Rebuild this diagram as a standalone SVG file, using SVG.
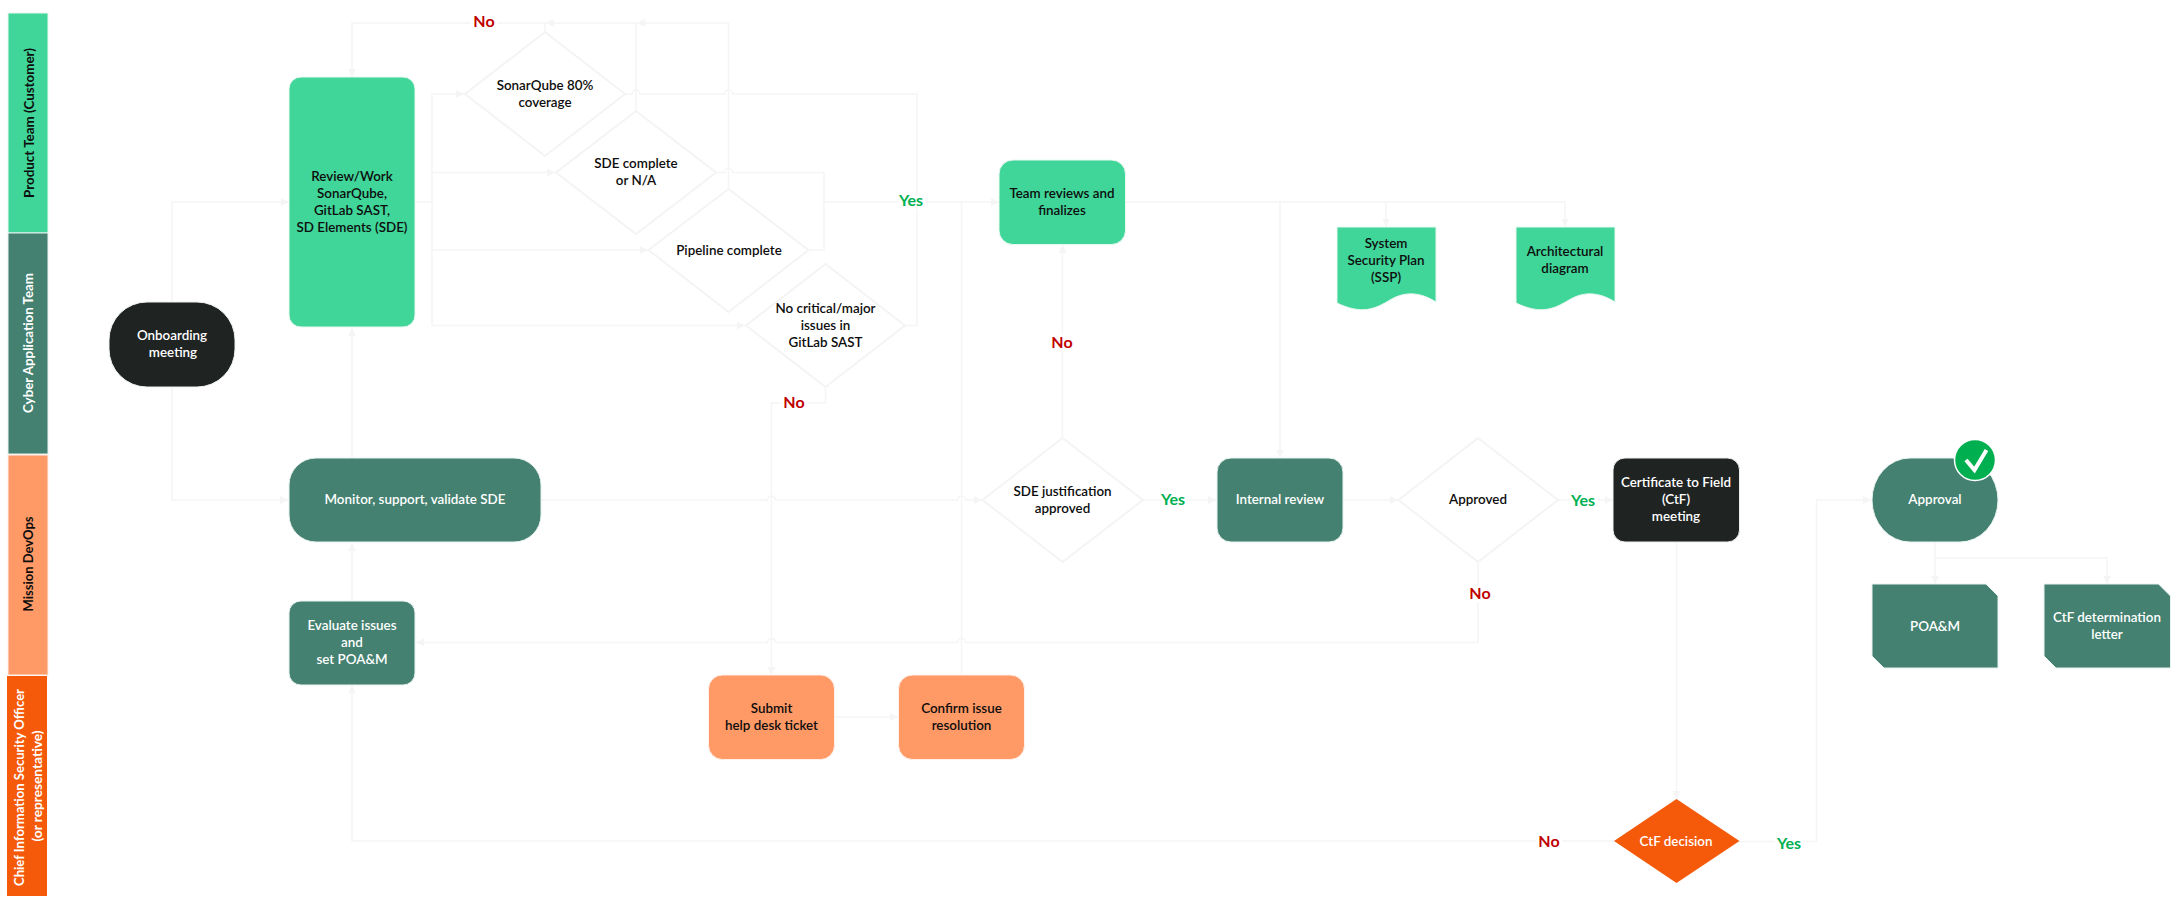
<svg xmlns="http://www.w3.org/2000/svg" width="2177" height="903" viewBox="0 0 2177 903">
<style>
text{font-family:"Lato","Carlito","Liberation Sans",sans-serif;font-size:13.4px;font-weight:600;text-anchor:middle;fill:#0d0d0d}
.w{fill:#fff}
.lane{font-size:14px;font-weight:700}
.no,.yes{font-size:16px;font-weight:700;stroke:#fff;stroke-width:7px;paint-order:stroke;stroke-linejoin:round}
.no{fill:#c00000}.yes{fill:#00b050}
.c{fill:none;stroke:#f5f5f5;stroke-width:1.500}
.a{marker-end:url(#arr)}
.d{fill:#fff;stroke:#f4f4f4;stroke-width:2}
.g{fill:#40d599;stroke:#e8f8f1;stroke-width:1}
.t{fill:#448170;stroke:#e8f2ef;stroke-width:1}
.k{fill:#1f2423;stroke:#eee;stroke-width:1}
.o{fill:#ff9966;stroke:#fff0e8;stroke-width:1}
.r{fill:#f55a0a}
</style>
<defs>
<marker id="arr" markerUnits="userSpaceOnUse" markerWidth="9" markerHeight="9" refX="8" refY="4" orient="auto"><path d="M0 0L8 4L0 8Z" fill="#f5f5f5"/></marker>
</defs>
<g id="lanes">
<g id="lane-product"><rect class="g" x="8" y="13" width="40" height="220"/><text class="lane" textLength="150" lengthAdjust="spacingAndGlyphs" transform="translate(34 123) rotate(-90)">Product Team (Customer)</text></g>
<g id="lane-cyber"><rect class="t" x="8" y="233" width="40" height="221"/><text class="lane w" textLength="140" lengthAdjust="spacingAndGlyphs" transform="translate(33 343) rotate(-90)">Cyber Application Team</text></g>
<g id="lane-mission"><rect class="o" x="8" y="455" width="40" height="220"/><text class="lane" textLength="95" lengthAdjust="spacingAndGlyphs" transform="translate(33 564) rotate(-90)">Mission DevOps</text></g>
<g id="lane-ciso"><rect class="r" x="7" y="676" width="40" height="220"/><text class="lane w" textLength="197" lengthAdjust="spacingAndGlyphs" transform="translate(23.500 787.500) rotate(-90)">Chief Information Security Officer</text><text class="lane w" textLength="111" lengthAdjust="spacingAndGlyphs" transform="translate(41.500 786) rotate(-90)">(or representative)</text></g>
</g>
<g id="connectors">
<path class="c a" d="M172 302V202H289"/>
<path class="c a" d="M172 387V500H288"/>
<path class="c" d="M415 202H432"/>
<path class="c a" d="M432 202V94H464"/>
<path class="c a" d="M432 172.500H555"/>
<path class="c a" d="M432 202V250H648"/>
<path class="c a" d="M432 250V325.500H745"/>
<path class="c a" d="M545 32V23H352V77"/>
<path class="c a" d="M636 111V23H546"/>
<path class="c a" d="M728.500 188V23H637"/>
<path class="c" d="M625 94H632a4 4 0 0 1 8 0H724.500a4 4 0 0 1 8 0H917V325.500H905"/>
<path class="c" d="M716 172.500H724.500a4 4 0 0 1 8 0H824V250H808.500"/>
<path class="c a" d="M824 202H999"/>
<path class="c a" d="M1126 202H1565V226.500"/>
<path class="c a" d="M1386 202V226.500"/>
<path class="c a" d="M1280 202V457.500"/>
<path class="c a" d="M1062.500 438V245"/>
<path class="c a" d="M541 500H767.500a4 4 0 0 1 8 0H957.500a4 4 0 0 1 8 0H982"/>
<path class="c a" d="M1143 500H1216"/>
<path class="c a" d="M1343 500H1398"/>
<path class="c a" d="M1558 500H1613"/>
<path class="c a" d="M825.500 387V403H771.500V675"/>
<path class="c" d="M961.500 675V202"/>
<path class="c a" d="M835 717H898"/>
<path class="c a" d="M1478 562V642.500H965.500a4 4 0 0 0 -8 0H775.500a4 4 0 0 0 -8 0H416"/>
<path class="c a" d="M352 601V543"/>
<path class="c a" d="M352 458V328"/>
<path class="c a" d="M1614 841H352V685.500"/>
<path class="c a" d="M1676.500 542V799"/>
<path class="c a" d="M1739 841.500H1816.500V500H1871"/>
<path class="c a" d="M1935 542V584"/>
<path class="c a" d="M1935 558H2107V584"/>
</g>
<g id="n-onboarding"><rect class="k" x="109" y="302" width="126" height="85" rx="38" ry="38"/><text class="w"><tspan x="172" y="340">Onboarding</tspan><tspan x="173" y="357">meeting</tspan></text></g>
<g id="n-review"><rect class="g" x="289" y="77" width="126" height="250" rx="12"/><text><tspan x="352" y="180.500">Review/Work</tspan><tspan x="352" y="197.500">SonarQube,</tspan><tspan x="352" y="214.500">GitLab SAST,</tspan><tspan x="352" y="231.500">SD Elements (SDE)</tspan></text></g>
<g id="n-sonar"><path class="d" d="M545 32L625 94L545 156L465 94Z"/><text><tspan x="545" y="90">SonarQube 80%</tspan><tspan x="545" y="107">coverage</tspan></text></g>
<g id="n-sde"><path class="d" d="M636 111L716 172.500L636 234L556 172.500Z"/><text><tspan x="636" y="168">SDE complete</tspan><tspan x="636" y="185">or N/A</tspan></text></g>
<g id="n-pipeline"><path class="d" d="M728.500 189L808.500 250L728.500 312L648.500 250Z"/><text x="729" y="254.500">Pipeline complete</text></g>
<g id="n-critical"><path class="d" d="M825.500 264L905 325.500L825.500 387L746 325.500Z"/><text><tspan x="825.500" y="313">No critical/major</tspan><tspan x="825.500" y="330">issues in</tspan><tspan x="825.500" y="347">GitLab SAST</tspan></text></g>
<g id="n-team"><rect class="g" x="999" y="160" width="126.500" height="84.500" rx="14"/><text><tspan x="1062" y="198">Team reviews and</tspan><tspan x="1062" y="215">finalizes</tspan></text></g>
<g id="n-ssp"><path class="g" d="M1337 227H1436V302C1420 292 1405 291 1390 300S1362 315 1337 303Z"/><text><tspan x="1386" y="248">System</tspan><tspan x="1386" y="265">Security Plan</tspan><tspan x="1386" y="282">(SSP)</tspan></text></g>
<g id="n-arch"><path class="g" d="M1516 227H1615V302C1599 292 1584 291 1569 300S1541 315 1516 303Z"/><text><tspan x="1565" y="256">Architectural</tspan><tspan x="1565" y="273">diagram</tspan></text></g>
<g id="n-monitor"><rect class="t" x="289" y="458" width="252" height="84" rx="27"/><text class="w" x="415" y="504">Monitor, support, validate SDE</text></g>
<g id="n-evaluate"><rect class="t" x="289" y="601" width="126" height="84" rx="12"/><text class="w"><tspan x="352" y="630">Evaluate issues</tspan><tspan x="352" y="647">and</tspan><tspan x="352" y="664">set POA&amp;M</tspan></text></g>
<g id="n-justify"><path class="d" d="M1062.500 438L1143 500L1062.500 562L982.500 500Z"/><text><tspan x="1062.500" y="496">SDE justification</tspan><tspan x="1062.500" y="513">approved</tspan></text></g>
<g id="n-internal"><rect class="t" x="1217" y="458" width="126" height="84" rx="14"/><text class="w" x="1280" y="503.500">Internal review</text></g>
<g id="n-approved"><path class="d" d="M1478 438L1558 500L1478 562L1398.500 500Z"/><text x="1478" y="504">Approved</text></g>
<g id="n-ctf"><rect class="k" x="1613" y="458" width="126.500" height="84" rx="12"/><text class="w"><tspan x="1676" y="487">Certificate to Field</tspan><tspan x="1676" y="504">(CtF)</tspan><tspan x="1676" y="521">meeting</tspan></text></g>
<g id="n-submit"><rect class="o" x="708.500" y="675" width="126" height="84.500" rx="14"/><text><tspan x="771.500" y="713">Submit</tspan><tspan x="771.500" y="730">help desk ticket</tspan></text></g>
<g id="n-confirm"><rect class="o" x="898.500" y="675" width="126" height="84.500" rx="14"/><text><tspan x="961.500" y="713">Confirm issue</tspan><tspan x="961.500" y="730">resolution</tspan></text></g>
<g id="n-decision"><path class="r" d="M1676.500 799L1739.500 841L1676.500 883L1614 841Z"/><text class="w" x="1676" y="846">CtF decision</text></g>
<g id="n-approval"><rect class="t" x="1872" y="458" width="126" height="84" rx="38" ry="42"/><text class="w" x="1935" y="504">Approval</text><circle cx="1975" cy="460" r="20.500" fill="#00b050" stroke="#fff" stroke-width="1.500"/><path d="M1966 460L1974.500 470L1986.500 450" fill="none" stroke="#fff" stroke-width="4"/></g>
<g id="n-poam"><path class="t" d="M1872 584H1986L1998 596V668H1884L1872 656Z"/><text class="w" x="1935" y="631">POA&amp;M</text></g>
<g id="n-letter"><path class="t" d="M2044 584H2158.500L2170.500 596V668H2056L2044 656Z"/><text class="w"><tspan x="2107" y="622">CtF determination</tspan><tspan x="2107" y="639">letter</tspan></text></g>
<g id="edge-labels">
<text class="no" x="484" y="27">No</text>
<text class="no" x="794" y="407.500">No</text>
<text class="no" x="1062" y="348">No</text>
<text class="no" x="1480" y="598.500">No</text>
<text class="no" x="1549" y="847">No</text>
<text class="yes" x="911" y="205.500">Yes</text>
<text class="yes" x="1173" y="505">Yes</text>
<text class="yes" x="1583" y="505.500">Yes</text>
<text class="yes" x="1789" y="848.500">Yes</text>
</g>
</svg>
